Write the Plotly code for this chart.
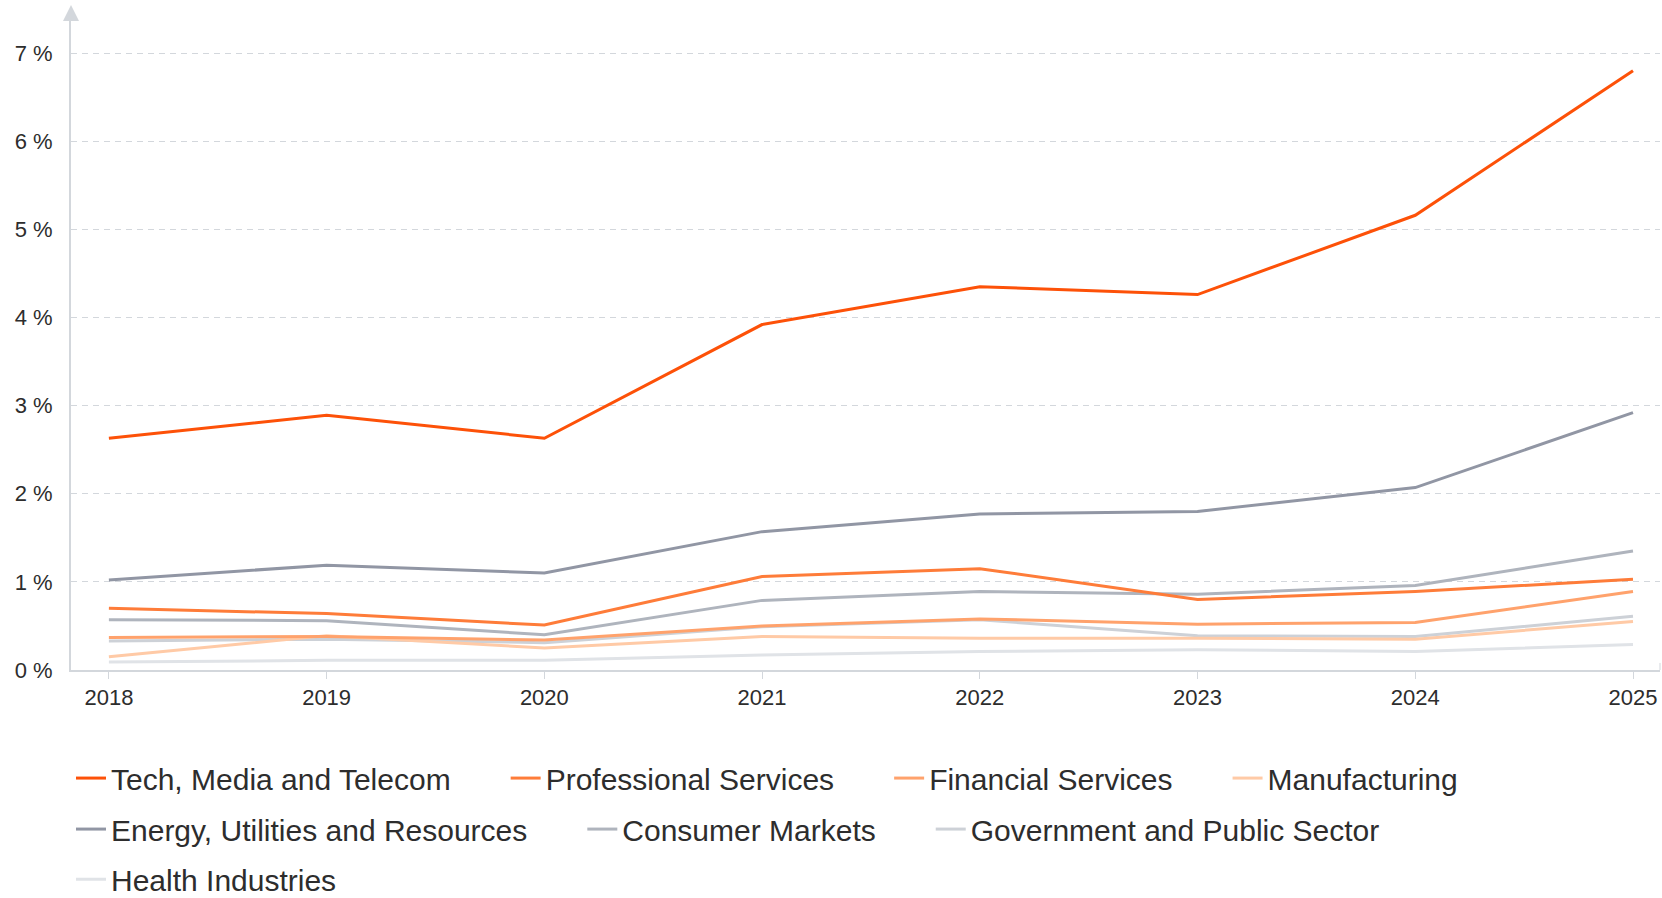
import plotly.graph_objects as go

years = [2018, 2019, 2020, 2021, 2022, 2023, 2024, 2025]

tech_media_telecom = [2.63, 2.89, 2.63, 3.92, 4.35, 4.26, 5.16, 6.80]
professional_services = [0.70, 0.64, 0.51, 1.06, 1.15, 0.80, 0.89, 1.03]
financial_services = [0.37, 0.38, 0.34, 0.50, 0.58, 0.52, 0.54, 0.89]
manufacturing = [0.15, 0.39, 0.25, 0.38, 0.36, 0.36, 0.35, 0.55]
energy_utilities = [1.02, 1.19, 1.10, 1.57, 1.77, 1.80, 2.07, 2.92]
consumer_markets = [0.57, 0.56, 0.40, 0.79, 0.89, 0.86, 0.96, 1.35]
government_public = [0.33, 0.35, 0.31, 0.49, 0.57, 0.39, 0.38, 0.61]
health_industries = [0.09, 0.11, 0.11, 0.17, 0.21, 0.23, 0.21, 0.29]

# name, values, colour, legend row
series = [
    ("Tech, Media and Telecom", tech_media_telecom, "#fd5108", "legend"),
    ("Professional Services", professional_services, "#fe7c39", "legend"),
    ("Financial Services", financial_services, "#ffa26c", "legend"),
    ("Manufacturing", manufacturing, "#ffcaa6", "legend"),
    ("Energy, Utilities and Resources", energy_utilities, "#9196a4", "legend2"),
    ("Consumer Markets", consumer_markets, "#afb4bd", "legend2"),
    ("Government and Public Sector", government_public, "#cdd1d7", "legend2"),
    ("Health Industries", health_industries, "#e0e3e7", "legend3"),
]

y_ticks = [0, 1, 2, 3, 4, 5, 6, 7]
y_tick_labels = [f"{v} %" for v in y_ticks]

font_family = "Helvetica Neue, Helvetica, Liberation Sans, Arial, sans-serif"
axis_grey = "#d3d7dc"
pad = "\u00a0" * 6  # extra room between legend entries

fig = go.Figure()

# draw the light lines first so the orange ones sit on top
for name, values, color, leg in reversed(series):
    fig.add_trace(go.Scatter(
        x=years,
        y=values,
        name=name + pad,
        mode="lines",
        line=dict(color=color, width=3),
        legend=leg,
    ))

legend_style = dict(
    orientation="h",
    traceorder="reversed",
    x=0.0,
    xanchor="left",
    yanchor="middle",
    font=dict(size=30, color="#2d2d2d"),
    bgcolor="rgba(0,0,0,0)",
)

fig.update_layout(
    width=1662,
    height=898,
    margin=dict(l=71, r=2, t=17, b=228, autoexpand=False),
    plot_bgcolor="white",
    paper_bgcolor="white",
    font=dict(family=font_family, color="#2d2d2d"),
    showlegend=True,
    legend=dict(legend_style, y=-0.1655),
    legend2=dict(legend_style, y=-0.2436),
    legend3=dict(legend_style, y=-0.3205),
)

fig.update_xaxes(
    range=[2017.826, 2025.124],
    tickvals=years,
    ticktext=[str(y) for y in years],
    tickfont=dict(size=22, color="#2d2d2d"),
    showgrid=False,
    showline=True,
    linecolor=axis_grey,
    linewidth=2,
    ticks="outside",
    ticklen=7,
    tickwidth=1,
    tickcolor=axis_grey,
    zeroline=False,
)

fig.update_yaxes(
    range=[0, 7.41],
    tickvals=y_ticks,
    ticktext=y_tick_labels,
    tickfont=dict(size=22, color="#2d2d2d"),
    showgrid=True,
    gridcolor=axis_grey,
    griddash="6px,5px",
    gridwidth=1,
    showline=True,
    linecolor=axis_grey,
    linewidth=2,
    ticks="",
    ticklabelstandoff=12,
    zeroline=False,
)

# arrow head on top of the y axis
fig.add_annotation(
    x=0, y=1, xref="paper", yref="paper",
    ax=0, ay=14, axref="pixel", ayref="pixel",
    text="", showarrow=True,
    arrowhead=2, arrowsize=1.6, arrowwidth=2, arrowcolor=axis_grey,
    yshift=12,
)

# small end mark on the x axis
fig.add_shape(
    type="line", xref="paper", yref="y",
    x0=1, x1=1, y0=-0.06, y1=0.08,
    line=dict(color=axis_grey, width=1),
)

fig.write_html(
    "out.html",
    config={"displayModeBar": False},
    post_script="document.body.style.margin='0';",
)
